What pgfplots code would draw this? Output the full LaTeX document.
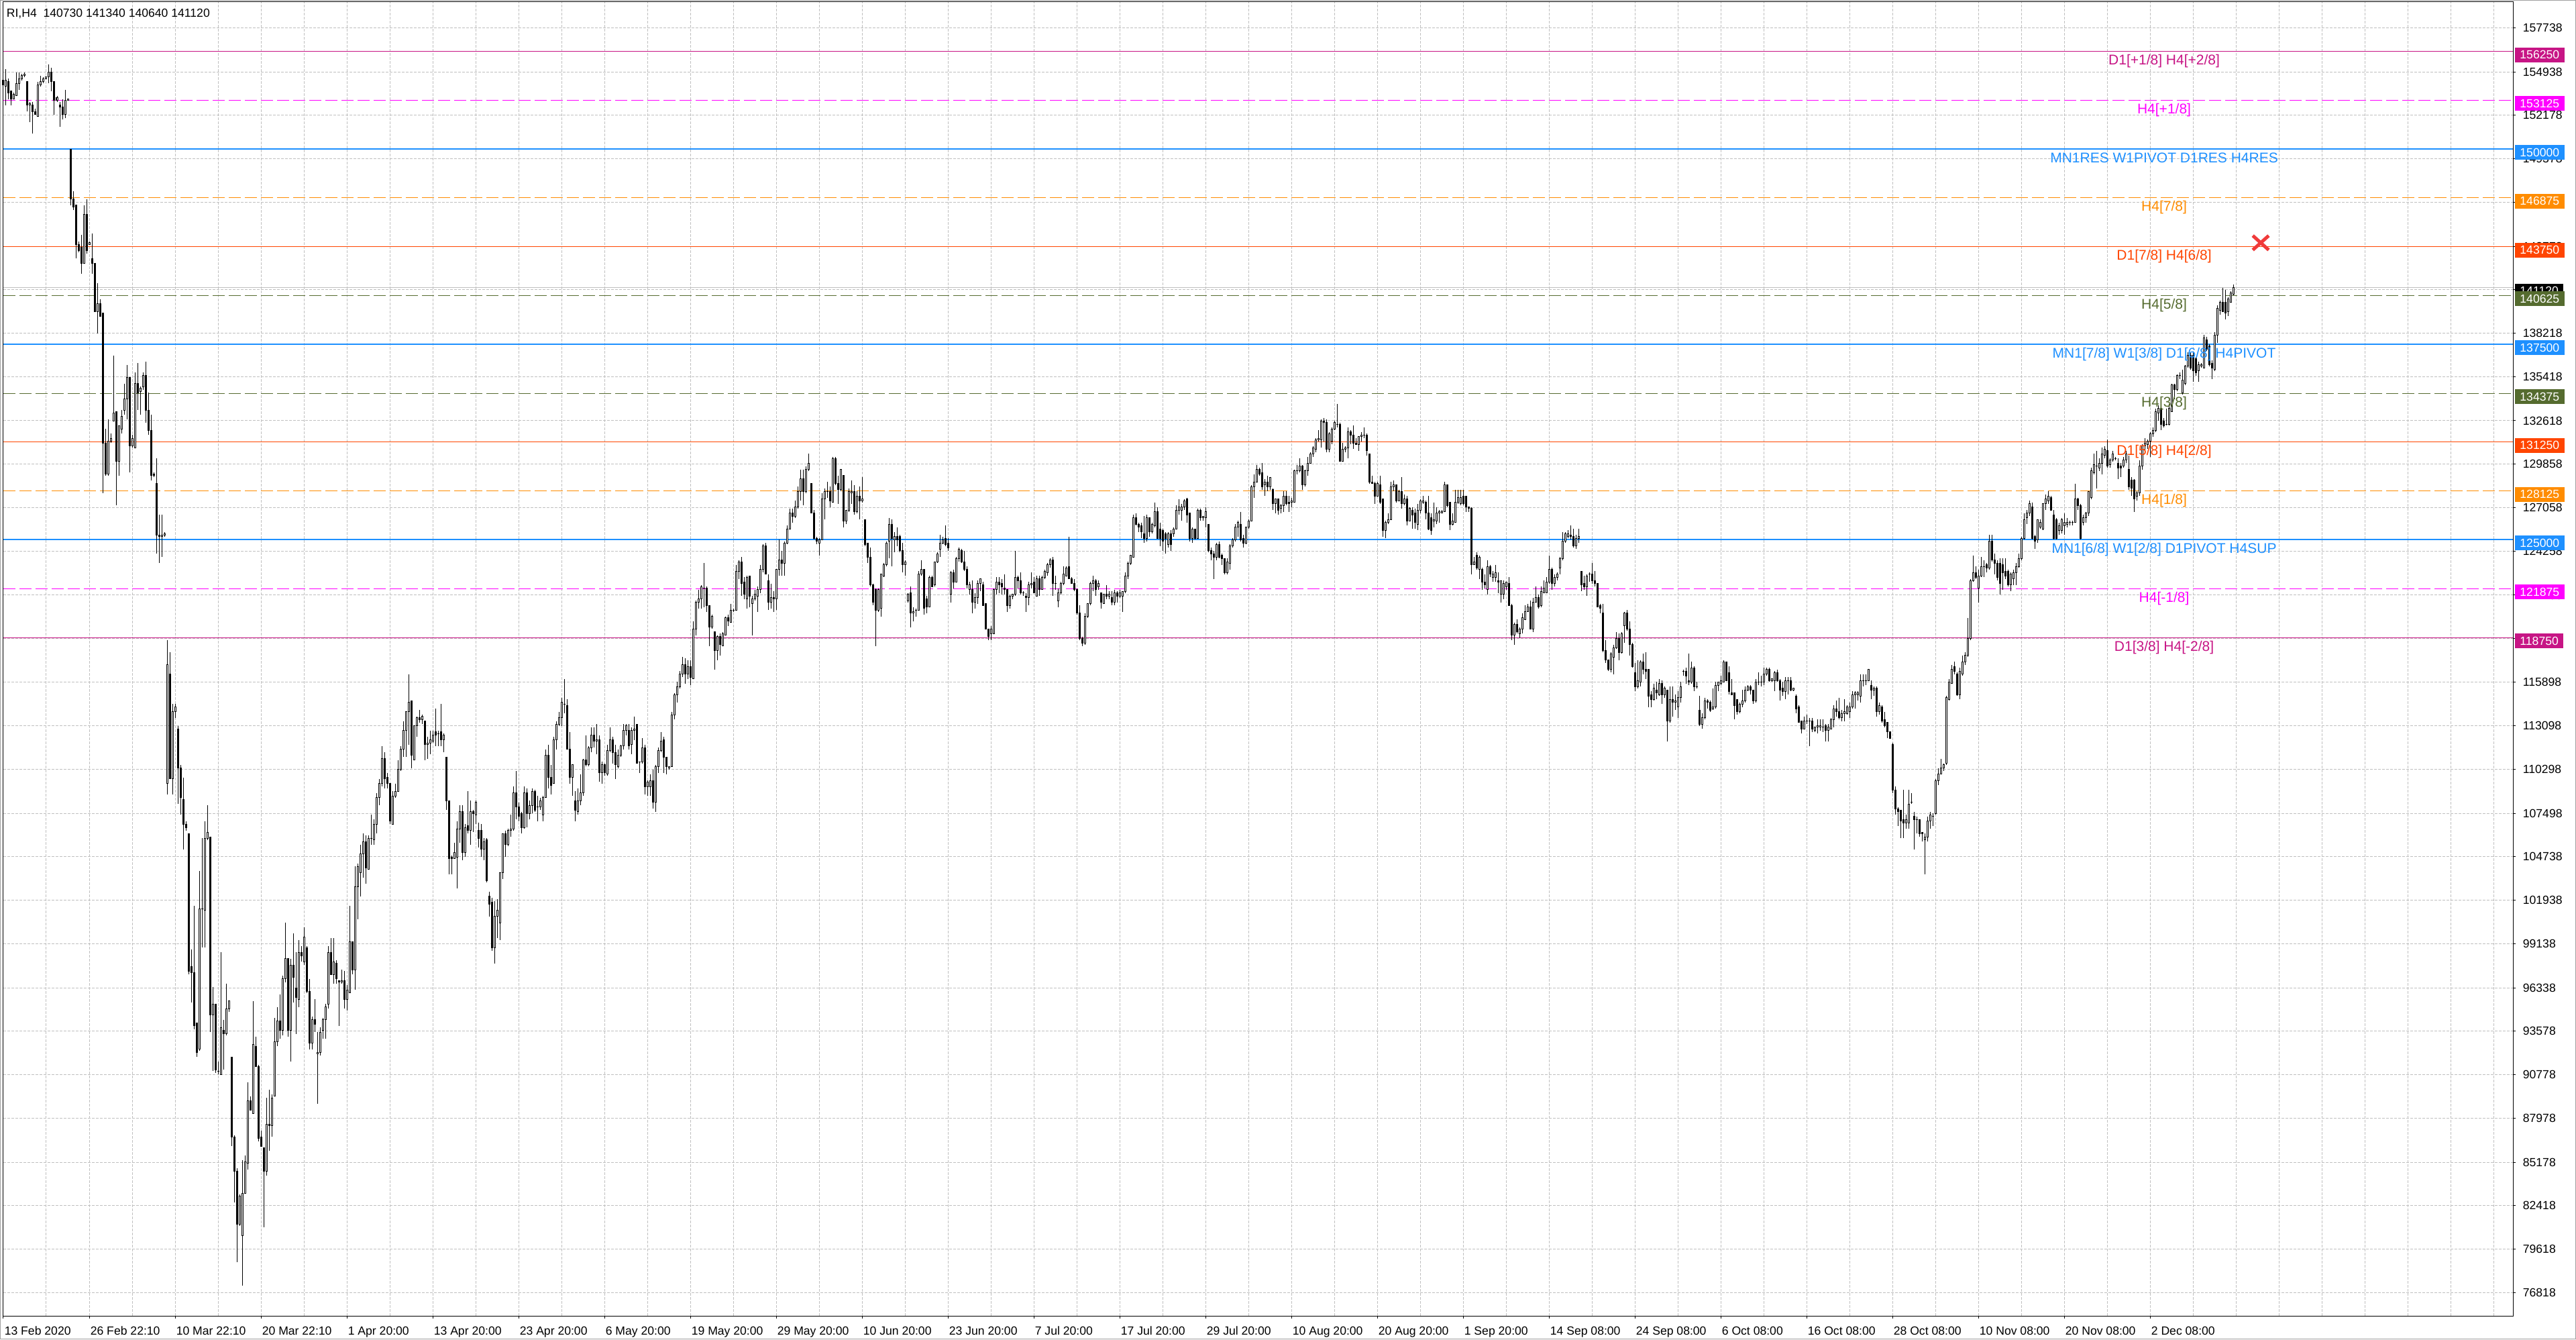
\documentclass[border=0pt]{standalone}
\usepackage{pgfplots}
\pgfplotsset{compat=1.18}
\usepackage{pgfplotstable}
\usepackage{fontspec}
\setmainfont{Liberation Sans}
\definecolor{mvred}{HTML}{C71585}
\definecolor{mag}{HTML}{FF00FF}
\definecolor{dblue}{HTML}{1E90FF}
\definecolor{dorange}{HTML}{FF8C00}
\definecolor{ored}{HTML}{FF4500}
\definecolor{olive}{HTML}{556B2F}
\definecolor{gridgray}{HTML}{C0C0C0}
\definecolor{framegray}{HTML}{A0A0A0}
\definecolor{xred}{HTML}{F03A3A}
\newcommand\tickfont{\fontsize{4.4pt}{5pt}\selectfont}
\newcommand\lvlfont{\fontsize{5.25pt}{6pt}\selectfont}
\pgfplotstableread{
O H L C
154.4 154.5 154.1 154.1
154.0 155.1 152.8 154.4
154.3 154.5 153.2 153.6
153.7 153.7 152.8 153.2
153.2 153.6 153.2 153.5
153.4 154.9 153.4 154.2
154.2 154.9 153.8 154.5
154.5 154.8 154.4 154.7
154.7 154.9 154.6 154.8
154.3 154.3 152.4 152.8
152.8 153.0 151.7 152.9
152.8 153.0 151.0 152.4
152.4 152.6 152.2 152.2
152.1 154.3 152.1 154.1
154.1 154.7 154.0 154.3
154.3 154.6 154.2 154.5
154.5 154.6 154.5 154.6
154.6 155.4 154.2 154.9
154.9 155.2 153.7 154.3
154.3 154.3 152.2 153.1
153.1 153.4 153.0 153.3
152.8 153.0 151.4 152.7
152.7 153.2 151.9 152.2
152.2 153.8 152.0 153.1
153.1 153.2 153.1 153.2
150.0 150.0 146.4 146.8
146.8 147.3 146.1 146.3
146.4 146.4 143.0 143.9
143.9 144.1 143.4 143.5
143.7 144.5 142.0 142.7
142.7 146.4 142.7 145.8
145.8 146.8 143.3 143.5
143.9 144.1 143.9 144.0
143.0 144.6 142.0 142.7
142.7 142.7 139.6 139.6
139.6 141.4 138.2 140.1
140.1 140.4 139.3 139.3
139.5 139.5 128.0 131.2
131.2 132.1 129.1 129.2
129.2 132.7 129.1 131.3
131.3 131.8 131.2 131.5
132.6 136.8 132.6 133.1
133.2 133.2 127.2 130.0
130.0 132.3 129.1 132.3
132.1 133.3 131.8 132.9
133.3 135.0 133.0 134.0
134.0 136.2 132.7 135.4
135.4 135.4 129.3 131.0
131.0 131.7 130.9 131.5
130.9 135.7 130.9 135.0
135.0 136.3 133.3 134.4
134.5 134.8 133.0 134.7
134.8 135.7 134.6 135.5
135.5 136.4 132.5 133.3
133.3 134.4 131.7 132.0
132.0 133.0 128.8 129.1
129.2 129.3 129.0 129.1
128.6 130.2 124.1 125.3
125.3 126.6 123.5 125.2
125.2 126.6 123.9 125.3
125.3 125.5 125.2 125.4
109.4 118.6 108.7 117.0
116.4 117.8 109.7 109.7
109.7 114.5 108.7 114.0
114.0 114.5 113.6 114.3
112.9 113.1 108.1 110.4
110.4 110.6 107.4 108.5
108.4 109.8 105.2 106.8
106.8 107.0 106.4 106.6
106.2 106.2 97.2 97.4
97.7 98.8 95.4 97.3
97.3 101.6 93.7 93.9
94.1 94.1 91.9 92.2
92.4 103.8 92.3 101.4
101.4 105.9 98.9 101.4
101.3 107.0 98.9 105.9
105.9 108.0 105.8 106.3
106.0 106.0 93.5 94.6
94.6 96.4 91.0 95.3
95.3 95.3 90.9 91.1
91.0 91.6 90.8 91.0
90.8 98.6 90.8 93.8
93.6 94.3 91.1 93.4
93.4 96.6 93.3 95.0
95.0 95.5 94.8 95.5
91.9 91.9 86.2 86.8
86.8 86.9 82.6 84.6
84.6 84.8 78.8 81.2
81.2 83.1 81.1 83.0
80.5 85.3 77.3 83.2
83.2 85.6 83.2 85.2
85.1 90.3 84.7 89.1
89.1 89.4 88.5 88.5
88.3 95.5 88.3 92.7
92.6 93.2 91.3 91.3
91.3 91.4 86.5 86.7
86.8 87.2 86.2 86.2
86.1 86.1 81.0 84.6
84.6 89.3 84.3 87.6
87.6 89.8 85.9 87.5
87.5 89.5 86.8 89.3
89.4 94.4 89.4 92.9
92.9 95.1 92.6 94.2
94.2 95.9 93.1 93.6
93.6 97.1 93.3 96.9
96.9 100.5 96.7 98.2
98.2 98.2 93.2 93.6
93.6 98.2 91.6 97.8
97.8 99.8 95.4 97.0
96.3 98.6 93.4 95.7
95.6 99.4 95.1 98.6
98.6 99.0 98.0 98.4
98.0 100.2 97.8 99.6
98.9 99.0 96.0 96.1
96.1 96.9 92.4 92.8
92.8 94.5 92.4 94.3
94.3 95.6 93.5 94.0
92.1 93.5 88.9 92.2
92.2 93.8 92.0 93.5
93.6 94.4 93.1 94.3
94.3 95.3 93.1 95.1
95.3 99.0 95.0 98.6
98.6 99.5 97.2 97.2
97.2 99.5 96.6 98.0
97.9 98.1 96.6 96.9
96.8 96.8 93.9 96.7
96.7 97.5 96.6 96.8
96.8 97.4 95.0 95.6
95.6 96.5 94.9 96.2
96.0 101.6 96.0 99.3
99.3 99.3 97.2 97.5
97.5 104.1 96.2 102.8
102.8 104.3 100.7 104.1
103.7 105.5 102.2 104.9
104.9 106.2 103.4 105.7
105.7 106.1 103.0 104.0
103.9 106.1 103.9 105.9
105.9 107.4 105.5 105.9
105.8 107.1 105.5 106.8
106.8 108.8 106.2 108.5
108.5 109.7 108.0 109.4
109.4 111.8 109.2 111.0
111.0 111.4 109.1 109.7
109.8 110.1 109.1 109.4
109.4 109.4 106.8 107.0
106.8 108.9 106.8 108.6
108.6 109.4 108.5 108.9
108.9 110.9 108.9 110.3
110.3 111.8 110.2 111.6
111.6 113.4 111.1 112.8
112.8 114.0 111.1 114.0
114.0 116.4 111.9 114.6
114.7 114.7 110.4 111.2
110.9 113.1 110.9 113.1
113.1 113.7 112.4 113.6
113.6 114.1 113.3 113.5
113.5 113.8 113.2 113.7
113.4 113.4 110.9 111.9
111.9 112.4 111.0 112.0
112.0 112.8 111.3 112.2
112.1 112.8 112.0 112.5
112.7 114.2 111.8 112.5
112.6 112.8 111.8 112.6
112.7 114.5 111.8 112.2
112.2 112.6 111.4 112.5
111.1 111.1 107.7 108.3
108.3 108.3 103.6 104.6
104.7 104.8 103.6 104.6
104.6 105.6 104.6 105.0
104.7 107.0 102.7 106.5
106.5 108.0 105.6 107.6
107.6 108.0 104.5 105.0
105.0 106.8 104.7 106.6
106.7 108.9 106.2 106.4
106.4 108.3 105.5 107.6
107.6 107.7 106.3 107.5
107.4 108.3 106.8 108.2
106.4 106.9 105.3 105.9
106.4 106.8 104.7 105.2
105.2 105.9 104.5 105.7
105.8 105.9 103.1 103.2
102.2 102.5 100.9 101.7
101.8 102.1 98.7 98.9
98.9 101.9 97.9 100.9
100.9 102.0 99.5 101.3
100.5 103.7 99.4 103.7
103.7 106.2 103.3 106.2
106.2 106.4 104.7 105.5
105.5 106.5 105.4 106.4
106.4 107.4 106.0 106.5
106.5 109.2 106.4 108.8
108.8 110.2 107.1 107.9
107.9 108.2 107.0 107.3
107.5 107.6 106.2 106.6
106.6 109.2 106.5 108.8
108.8 109.1 106.6 107.5
107.5 108.3 107.1 108.0
108.0 109.1 107.5 108.9
108.9 109.0 107.6 107.7
107.9 108.6 107.0 107.9
107.9 108.5 107.7 108.3
107.4 108.6 107.0 108.5
108.5 111.6 108.5 111.2
111.2 111.9 109.1 109.8
109.8 110.6 108.7 109.3
109.4 112.4 109.4 112.2
112.2 113.4 111.6 113.2
113.2 114.0 113.1 113.6
113.6 114.9 113.1 114.6
114.5 116.1 113.9 114.5
114.4 114.8 111.6 111.6
111.6 112.7 109.4 109.8
109.8 110.6 108.6 110.6
108.3 108.9 107.0 107.7
107.6 109.1 107.4 108.3
108.3 110.0 108.0 108.8
108.8 111.0 108.6 110.9
110.9 112.5 110.5 110.6
110.6 111.8 110.5 111.7
111.7 113.0 111.4 112.5
112.5 113.0 111.7 112.1
112.1 113.2 111.3 112.2
112.2 112.5 109.5 110.1
110.1 110.8 109.4 110.6
110.6 110.7 109.9 110.1
110.0 111.9 109.9 111.5
111.5 113.0 111.4 112.2
112.2 112.4 110.7 111.4
111.4 111.9 109.7 110.6
110.5 111.6 110.4 111.2
111.2 111.9 111.1 111.8
111.8 113.2 111.6 112.8
112.8 113.2 112.5 113.1
112.8 113.2 111.6 111.8
111.9 113.0 111.3 112.8
112.8 113.7 112.2 112.9
113.2 113.2 110.7 110.7
110.8 110.8 110.1 110.8
110.8 112.3 110.7 111.7
111.7 111.9 108.7 109.2
109.2 109.6 108.6 109.5
109.2 110.0 108.6 109.6
109.6 110.3 107.8 108.2
108.2 110.6 107.6 110.5
110.5 111.7 110.1 111.5
111.5 112.7 111.4 112.1
112.2 112.4 110.1 111.1
111.1 111.1 110.0 110.5
110.4 110.5 110.3 110.5
110.5 114.0 110.5 113.8
113.8 115.2 113.5 115.1
115.1 115.9 114.6 115.6
115.6 116.6 115.5 116.4
116.4 117.5 116.2 117.0
117.0 117.4 115.8 116.4
116.4 117.3 116.1 116.9
116.9 117.3 115.7 116.2
116.1 119.8 116.1 119.3
119.3 121.1 118.9 121.0
121.0 121.8 120.6 121.2
121.2 122.1 120.6 122.0
121.9 123.5 120.7 121.9
121.9 122.0 120.4 120.8
120.8 120.8 118.2 119.4
119.4 120.2 119.3 120.1
119.1 119.1 116.7 117.9
117.9 118.9 117.3 118.8
118.8 119.0 117.6 118.3
118.2 119.1 118.2 119.0
118.9 120.1 118.9 120.0
120.0 120.2 119.5 119.8
119.7 120.9 119.7 120.5
120.5 120.6 120.4 120.5
120.5 123.4 120.5 123.0
123.0 123.7 122.5 123.6
123.6 123.9 121.4 122.2
122.3 122.6 121.2 121.5
121.2 122.7 120.6 122.6
122.7 122.7 120.7 121.4
120.9 121.4 118.9 121.2
121.2 121.8 121.1 121.5
121.4 122.0 120.4 121.8
121.8 123.4 121.6 123.1
123.1 124.7 122.9 124.6
124.6 124.8 122.8 122.8
122.4 122.8 120.5 121.0
121.0 122.2 120.6 121.3
121.3 121.7 120.4 121.2
121.2 123.1 120.5 123.1
123.1 125.0 122.7 123.7
123.7 124.3 122.7 123.5
123.5 124.9 122.7 124.8
124.8 125.9 124.7 125.7
125.7 127.0 125.7 126.7
126.7 127.0 126.1 126.5
126.5 127.5 126.4 127.1
127.1 128.4 127.0 128.1
128.1 129.5 127.5 128.9
128.9 129.5 127.2 128.1
128.1 129.7 128.0 129.5
129.5 130.5 129.4 129.9
128.6 128.6 126.7 126.7
126.7 126.9 125.0 125.1
125.1 125.2 124.7 124.9
124.8 125.1 124.0 125.0
125.0 128.0 125.0 127.6
127.6 128.3 126.3 128.1
128.1 128.7 127.7 128.1
128.1 128.4 127.1 127.5
127.4 130.3 127.4 130.2
130.2 130.3 128.5 128.6
128.6 129.1 127.3 128.2
128.2 129.5 128.1 129.5
129.1 129.1 125.8 126.2
126.2 126.9 126.0 126.9
126.9 128.3 126.8 128.1
128.0 128.8 127.3 128.1
128.1 128.5 126.6 126.8
126.8 128.1 126.7 127.8
127.8 128.4 126.3 127.5
127.5 129.0 127.4 127.6
126.3 126.3 124.6 124.7
124.8 124.8 123.5 123.9
123.9 124.5 122.0 122.1
122.1 122.2 120.8 121.0
121.8 121.9 118.2 120.5
120.5 121.9 120.4 121.8
120.6 122.8 120.1 122.8
122.7 123.5 122.6 123.4
123.4 124.9 123.3 124.8
124.9 126.4 123.8 126.0
126.0 126.3 123.3 125.1
125.0 125.5 124.2 125.2
125.2 125.8 124.6 125.0
125.2 125.3 124.2 124.3
124.3 124.8 122.9 123.4
123.4 123.7 122.7 123.6
121.1 121.6 121.0 121.5
121.6 122.0 119.4 120.3
120.3 120.7 119.8 120.4
120.5 120.6 120.1 120.5
120.5 123.0 120.5 122.8
122.8 123.7 122.7 123.1
123.1 123.1 120.2 120.6
121.2 121.4 120.3 120.7
120.7 122.7 120.7 122.6
122.6 122.7 122.0 122.0
122.1 123.6 122.0 123.6
123.6 124.2 123.5 124.1
124.4 125.3 123.9 124.8
124.8 125.2 124.7 125.0
125.1 125.9 124.6 124.7
124.8 125.1 124.3 124.5
121.5 123.0 121.0 122.9
122.9 123.1 121.9 122.3
122.3 123.9 122.3 123.8
123.8 124.5 123.6 124.4
124.3 124.4 123.5 123.6
123.6 124.3 123.0 123.1
123.1 123.3 121.9 122.1
121.8 122.3 121.5 122.1
121.8 122.4 120.3 121.0
121.0 121.6 120.6 121.3
121.3 122.4 120.9 122.2
122.2 122.5 121.7 122.5
122.1 122.3 120.8 120.8
120.9 120.9 119.3 119.3
119.3 119.3 118.6 118.8
119.0 119.5 118.6 119.3
119.0 121.9 119.0 121.8
121.8 122.6 121.5 122.3
122.3 122.6 121.6 122.1
122.2 122.5 121.5 122.0
121.9 122.8 121.5 121.8
121.8 121.8 120.4 120.8
120.8 121.5 120.6 121.4
121.4 121.5 121.2 121.5
121.5 124.3 121.4 122.6
122.6 122.7 121.9 122.4
122.4 122.9 121.5 121.6
121.6 121.7 121.4 121.6
121.4 121.6 120.4 121.3
121.3 122.3 120.8 122.1
122.1 122.9 121.9 122.2
122.3 122.6 121.6 121.6
121.4 122.7 121.4 122.5
122.5 122.7 121.4 121.8
121.8 122.7 121.8 122.6
122.6 123.1 122.5 123.0
122.9 123.5 122.7 123.4
123.4 123.8 123.2 123.7
123.7 123.9 121.4 122.2
122.2 122.7 121.8 122.2
121.1 121.9 120.7 121.6
121.6 122.3 121.5 122.2
122.2 123.3 122.1 122.8
122.7 123.3 122.7 123.2
123.3 125.2 122.5 122.5
122.5 122.6 122.2 122.2
122.2 122.5 121.7 121.8
121.8 121.9 120.2 120.3
120.3 120.8 118.6 118.7
118.7 118.8 118.2 118.4
118.4 120.3 118.3 120.1
120.1 120.9 120.0 120.9
120.9 122.3 120.8 122.2
122.2 122.7 121.7 122.4
122.4 122.5 121.4 121.8
122.0 122.4 121.8 122.2
121.6 121.6 120.6 121.0
120.9 121.5 120.9 121.5
121.5 122.1 121.2 121.4
121.4 121.7 121.2 121.5
121.3 121.7 120.8 121.0
121.0 121.8 120.8 121.6
121.6 121.7 121.0 121.4
121.4 121.8 121.3 121.6
121.4 121.7 120.4 121.7
121.7 122.9 121.6 122.7
122.7 123.6 122.5 123.5
123.5 124.0 123.4 124.0
123.9 126.6 123.9 126.4
126.4 126.7 125.9 126.0
126.0 126.1 125.5 125.8
125.9 126.1 125.1 125.5
125.4 126.5 124.8 125.1
125.1 126.6 124.9 126.4
126.4 126.4 125.2 125.5
125.5 126.1 125.4 126.0
125.9 127.4 125.8 126.8
126.8 127.1 125.1 125.1
125.7 126.1 124.6 125.1
125.6 125.7 124.3 124.9
125.4 125.5 124.1 125.1
124.7 125.5 124.5 125.4
125.4 125.6 124.3 124.7
125.4 125.8 125.2 125.7
125.7 127.2 125.7 126.9
126.9 127.6 126.6 127.1
126.9 127.3 126.2 127.1
127.1 127.6 126.9 127.5
127.6 127.7 126.1 126.6
126.7 126.7 124.9 125.1
125.1 125.8 124.8 125.7
125.7 125.7 125.0 125.1
125.1 127.0 125.1 126.9
126.9 127.0 126.2 126.4
126.4 126.5 126.2 126.5
126.4 127.1 125.8 126.8
126.0 126.0 124.2 124.3
124.3 124.5 123.7 124.1
124.1 124.3 122.5 123.9
123.9 124.8 123.7 124.7
124.7 124.9 123.8 123.9
124.0 124.1 123.4 123.8
123.8 123.8 122.8 122.9
122.9 123.8 122.8 123.6
123.5 124.7 123.1 124.6
124.6 125.1 124.5 125.0
125.0 126.0 124.9 125.8
125.8 126.2 125.2 126.1
126.0 126.8 124.9 125.0
125.1 125.3 124.5 124.8
124.8 125.8 124.7 125.8
125.8 126.3 125.7 126.2
126.2 128.5 126.2 128.4
128.4 129.2 127.7 128.7
128.7 129.8 128.7 129.5
129.5 129.6 129.1 129.2
129.3 129.9 128.2 128.4
128.5 128.9 127.8 128.7
128.7 129.1 128.1 128.4
128.4 129.0 128.2 129.0
128.2 128.3 126.9 127.3
127.3 127.6 126.7 127.6
127.6 127.6 126.6 126.9
127.0 127.3 126.7 127.2
127.2 128.1 126.8 127.8
127.8 128.1 127.2 127.3
127.4 127.8 126.8 127.3
127.4 127.7 127.1 127.5
127.4 129.5 127.4 129.4
129.4 129.8 129.2 129.4
129.4 130.2 129.3 129.7
129.7 129.8 128.2 128.5
128.5 129.5 128.4 129.4
129.4 130.3 129.1 129.9
129.9 130.6 129.9 130.5
130.5 131.0 130.3 130.9
130.8 131.5 130.6 131.4
131.4 132.0 131.3 131.5
131.4 132.7 130.9 132.6
132.6 132.8 131.3 132.5
132.5 132.7 130.6 130.8
130.8 131.9 130.6 131.8
131.3 132.2 131.1 132.1
132.1 132.6 132.0 132.5
132.4 133.7 132.2 132.4
132.4 132.5 130.0 130.0
130.0 131.2 130.0 130.8
130.8 131.0 130.6 130.9
130.9 132.2 130.2 131.9
131.9 132.0 131.1 131.7
131.7 132.3 130.8 131.2
131.2 131.5 131.1 131.1
131.1 131.6 130.7 131.6
131.6 131.9 131.3 131.7
131.7 132.2 131.5 131.7
131.7 131.8 130.4 130.7
130.5 130.5 128.6 128.7
128.7 129.1 128.6 128.6
128.6 128.7 127.3 127.8
127.8 128.7 127.8 128.6
128.5 129.1 127.3 127.4
127.6 127.6 125.2 125.6
125.6 126.2 125.1 126.1
126.1 126.7 126.0 126.3
126.3 128.7 126.3 128.4
128.4 128.8 128.1 128.5
128.5 128.5 127.4 127.5
127.5 128.2 127.5 128.1
128.1 129.0 127.0 127.3
127.3 127.9 127.2 127.6
127.6 127.8 125.9 126.2
126.2 127.1 126.2 127.0
126.9 127.1 125.7 126.6
126.7 127.0 125.7 126.1
126.0 127.3 125.6 126.9
126.9 127.6 126.7 127.5
127.4 127.8 127.3 127.5
127.4 127.5 126.3 126.7
126.7 127.8 125.6 125.7
126.4 126.7 125.3 125.6
126.2 127.4 125.8 126.3
126.2 127.1 126.0 126.7
126.7 126.9 126.1 126.8
126.7 126.9 126.7 126.8
126.8 128.7 126.8 128.5
128.5 128.5 127.1 127.2
127.4 127.4 125.6 126.0
126.0 126.7 125.9 126.2
126.1 128.2 126.1 127.4
127.4 128.2 127.3 127.7
127.3 128.2 127.2 127.7
127.8 128.2 127.2 127.3
127.8 127.8 126.8 127.1
127.1 127.1 126.8 127.0
127.0 127.1 122.8 123.4
123.4 123.9 123.4 123.6
124.0 124.2 123.1 123.2
123.1 124.0 122.5 123.9
123.1 123.2 121.8 122.3
122.3 122.8 121.9 122.1
121.8 123.7 121.5 123.3
123.3 123.4 122.6 122.8
122.6 123.0 122.3 122.8
122.6 123.4 122.3 122.9
122.4 122.9 121.6 122.3
121.5 122.4 121.0 122.4
121.5 122.4 121.2 122.2
122.0 122.3 121.8 122.3
122.2 122.6 120.8 120.8
120.8 120.9 118.6 118.9
118.9 119.7 118.3 119.6
119.6 119.9 119.0 119.1
119.0 119.4 118.7 119.3
119.3 120.3 119.0 120.0
119.9 120.8 119.9 120.4
120.4 120.9 120.4 120.7
120.7 121.1 119.3 119.3
119.3 121.3 119.1 121.0
121.0 122.0 121.0 121.3
121.3 121.5 120.6 120.7
120.8 122.0 120.7 121.7
121.6 122.4 121.6 121.9
121.6 122.6 121.6 122.3
122.3 124.0 122.2 123.1
123.1 123.2 121.8 122.2
122.2 122.8 122.0 122.6
122.6 122.9 122.4 122.8
123.2 123.9 122.8 123.8
123.8 125.5 123.7 124.9
124.9 125.5 124.8 125.4
125.2 125.6 125.1 125.4
125.3 125.9 125.0 125.2
125.2 125.7 124.5 124.6
124.6 125.3 124.4 125.1
125.1 125.7 124.8 125.2
123.0 123.0 121.7 122.1
122.2 122.7 121.8 122.0
122.0 122.8 121.4 122.7
122.8 122.9 122.3 122.8
122.8 123.5 122.2 122.4
122.4 123.0 122.0 122.2
122.2 122.2 120.7 120.7
120.8 120.9 120.3 120.6
120.3 120.9 117.8 117.9
117.9 118.6 117.1 117.3
117.3 117.3 116.6 116.7
116.7 117.8 116.5 117.7
117.5 118.3 116.4 118.1
118.1 119.1 118.0 118.7
118.7 119.0 117.3 117.8
117.8 119.1 117.7 119.0
119.5 120.4 118.4 120.3
120.3 120.5 119.2 119.3
119.3 119.8 117.6 118.3
118.3 118.4 116.8 116.9
116.5 117.1 115.3 115.6
115.6 117.3 115.5 116.0
115.9 117.3 115.6 117.2
117.2 117.7 116.4 116.7
116.7 117.8 116.1 116.6
116.7 116.7 114.3 115.0
115.1 115.3 114.3 114.8
114.8 115.8 114.7 115.5
115.4 115.9 114.8 115.2
115.1 116.1 115.0 115.8
115.8 116.0 114.5 115.1
115.1 115.6 114.9 115.5
115.4 115.4 112.1 113.4
113.4 115.6 113.3 114.8
114.8 115.6 113.7 114.6
114.6 115.1 114.1 114.7
114.3 115.3 113.6 114.9
114.9 115.9 114.6 115.6
116.6 116.7 116.3 116.6
116.6 116.8 115.8 116.3
116.0 117.7 115.7 115.9
115.9 117.2 115.8 116.8
116.8 116.9 115.3 115.6
115.6 115.9 115.5 115.6
114.1 115.0 113.1 113.2
113.2 113.9 112.9 113.6
113.6 114.9 113.5 114.7
114.7 114.8 114.2 114.6
114.6 114.7 114.0 114.1
114.2 115.5 114.1 114.3
114.3 115.9 114.2 115.7
115.7 115.9 115.3 115.9
115.8 116.3 115.7 116.0
115.9 117.3 115.9 117.2
117.2 117.2 116.0 116.0
116.5 116.9 115.1 115.3
115.2 116.1 115.1 115.1
115.2 115.2 113.5 114.4
114.8 114.8 113.8 114.0
114.0 114.6 113.9 114.5
114.5 115.4 114.3 114.7
114.7 115.6 114.6 115.4
115.4 115.7 115.3 115.6
115.6 115.7 115.1 115.4
115.4 115.4 114.5 114.7
114.7 116.1 114.6 115.9
115.9 116.5 115.7 115.9
115.9 116.3 115.6 115.9
115.9 116.8 115.7 116.4
116.4 116.8 116.3 116.7
116.7 116.8 115.9 116.0
116.0 116.1 115.9 116.1
116.0 116.6 115.3 116.5
116.5 116.7 115.9 116.0
116.0 116.1 114.7 115.4
115.5 115.9 115.0 115.3
115.3 116.2 114.8 116.0
116.0 116.2 115.1 116.0
116.0 116.2 115.3 115.4
115.4 115.5 115.3 115.5
115.0 115.1 113.9 114.2
114.3 114.4 113.3 113.3
113.4 113.4 112.6 112.9
112.9 113.7 112.9 113.4
113.4 113.8 113.2 113.4
113.4 113.6 111.8 113.4
113.4 113.6 112.7 112.9
112.8 113.0 112.7 113.0
113.0 113.5 112.6 113.1
113.0 113.5 112.8 113.1
113.0 113.5 112.7 113.0
113.1 113.2 112.1 112.8
112.8 113.2 112.1 113.0
112.9 113.6 112.9 113.5
113.5 114.4 113.0 114.2
114.2 114.7 113.7 114.0
114.0 114.9 113.5 113.6
113.6 114.1 113.4 113.9
113.9 114.8 113.4 114.0
113.9 114.4 113.8 114.3
114.0 114.6 113.6 114.3
114.3 115.3 114.2 115.1
115.1 115.3 114.2 115.2
115.1 115.3 114.7 115.2
115.0 116.4 114.6 116.0
116.0 116.4 115.6 116.0
116.0 116.4 115.7 116.0
116.0 116.7 116.0 116.7
115.7 116.0 114.8 115.4
115.4 115.6 115.0 115.5
115.5 115.6 113.7 114.0
114.0 114.6 113.8 114.4
114.3 114.4 113.3 113.4
113.5 114.0 113.0 113.1
113.3 113.3 112.3 112.7
112.7 112.7 112.3 112.3
111.9 112.0 108.8 109.0
109.0 109.2 107.4 107.8
107.8 107.9 106.7 107.6
107.7 107.7 105.9 107.0
107.1 109.0 105.9 106.9
106.9 107.4 106.5 107.1
106.9 109.0 106.5 108.1
108.2 108.8 108.1 108.2
107.3 107.6 105.2 107.1
107.1 107.3 106.2 107.1
107.1 107.1 106.0 106.2
106.3 106.3 105.7 106.2
105.8 106.2 103.6 106.0
106.0 107.3 105.7 107.0
107.0 107.6 106.5 107.4
107.3 107.5 106.7 107.3
107.5 109.7 107.4 109.6
109.6 110.4 109.3 110.0
110.0 111.0 110.0 110.4
110.4 110.7 110.2 110.6
110.7 115.0 110.6 114.9
114.8 116.1 114.7 115.9
115.8 117.0 115.8 116.7
116.9 117.2 116.4 116.6
116.4 116.5 115.0 115.1
115.1 116.8 114.8 116.6
116.4 117.6 116.3 117.2
117.2 117.8 117.0 117.6
117.6 120.0 117.5 118.7
118.7 122.5 118.6 122.4
122.4 124.0 122.3 122.9
122.9 123.3 122.5 122.6
121.9 123.1 121.0 122.7
122.7 123.9 122.6 123.3
123.3 123.7 122.6 123.3
123.4 123.5 122.9 123.2
123.2 125.3 123.1 124.9
124.9 125.3 123.6 123.7
123.7 124.1 122.8 123.5
123.5 123.7 122.4 122.6
123.5 123.8 121.5 122.2
123.4 123.8 121.8 122.9
123.0 123.8 122.5 122.7
123.0 123.1 122.0 122.1
122.1 122.9 121.7 122.8
122.5 123.1 122.1 122.9
122.9 123.5 122.1 123.3
123.3 124.1 123.2 123.8
123.8 125.2 123.7 125.1
125.1 126.7 125.0 126.3
126.4 126.9 126.0 126.7
126.7 127.5 126.5 127.3
127.1 127.4 125.0 125.1
125.2 125.3 124.4 124.9
125.0 126.3 124.8 126.3
125.8 126.3 125.7 126.1
125.7 127.3 125.6 127.3
127.3 127.9 126.9 127.6
127.5 128.1 127.3 127.8
127.7 127.8 126.9 126.9
126.6 126.9 125.0 125.1
126.3 126.4 125.0 125.1
125.6 126.1 125.3 125.9
125.6 126.4 125.4 126.3
125.9 126.7 125.3 126.1
126.0 126.4 125.8 126.1
126.1 126.2 125.9 126.1
126.1 126.2 125.9 126.1
126.1 128.6 126.1 127.6
127.6 127.7 126.9 127.2
127.2 127.3 125.0 125.1
126.1 126.6 125.9 126.4
126.4 126.8 126.1 126.7
126.7 128.1 126.5 128.1
127.7 129.6 127.6 129.4
129.3 130.5 129.2 129.8
129.7 130.7 128.3 129.7
129.6 130.2 129.4 129.9
129.9 130.9 129.2 130.5
130.4 131.0 130.2 130.8
130.7 131.4 129.6 129.7
129.8 130.2 129.6 130.1
130.1 130.7 130.0 130.5
130.2 130.3 130.1 130.2
129.9 130.2 128.9 129.6
129.7 129.9 129.0 129.6
129.7 130.3 129.6 130.1
130.1 130.7 129.9 130.5
129.5 130.4 128.2 128.4
128.8 129.0 127.8 128.3
128.8 128.9 126.8 127.6
127.8 128.1 127.5 128.0
128.0 130.1 127.8 129.7
129.7 131.1 129.5 131.0
131.0 131.5 130.7 131.2
131.1 131.4 130.8 131.3
131.3 131.9 130.3 131.8
131.8 132.2 131.6 132.0
132.0 133.4 131.9 133.2
133.1 133.6 132.6 133.4
133.4 133.6 132.0 132.4
132.6 132.8 132.2 132.3
132.4 133.4 132.3 132.4
132.4 133.7 132.3 133.4
133.2 135.0 133.2 134.9
134.9 135.0 134.0 134.6
134.6 135.6 134.5 135.5
135.5 135.7 135.3 135.5
134.4 135.9 134.3 135.2
135.0 136.2 134.9 136.1
136.1 137.0 136.0 136.8
136.8 137.0 135.9 136.0
136.8 137.0 135.1 135.8
136.6 136.7 135.5 135.7
135.8 136.4 135.1 136.2
136.1 136.3 136.0 136.2
136.0 138.1 136.0 137.9
137.8 138.0 137.1 137.2
137.4 137.5 136.1 136.2
136.3 136.5 135.3 136.0
135.9 138.3 135.8 138.1
138.1 140.0 137.6 139.8
139.7 140.3 139.4 140.2
140.2 141.1 139.6 139.6
140.2 141.0 139.1 139.5
139.6 140.5 139.3 140.4
140.2 140.9 140.2 140.8
140.73 141.34 140.64 141.12
}\bars
\begin{document}
\begin{tikzpicture}
\path[use as bounding box] (-1.25pt,-8.75pt) rectangle (958.75pt,490.25pt);
\begin{axis}[
  at={(0pt,0pt)}, anchor=south west, scale only axis,
  width=935.25pt, height=489.75pt,
  xmin=0, xmax=935.25, ymin=75.348, ymax=159.448,
  clip=false,
  axis line style={black, line width=0.25pt},
  tick style={black, line width=0.25pt},
  tick align=outside, major tick length=1pt, minor tick length=0pt,
  xtick pos=bottom, ytick pos=right, yticklabel pos=right,
  xtick={0,32,...,800},
  xticklabels={13 Feb 2020,26 Feb 22:10,10 Mar 22:10,20 Mar 22:10,1 Apr 20:00,13 Apr 20:00,23 Apr 20:00,6 May 20:00,19 May 20:00,29 May 20:00,10 Jun 20:00,23 Jun 20:00,7 Jul 20:00,17 Jul 20:00,29 Jul 20:00,10 Aug 20:00,20 Aug 20:00,1 Sep 20:00,14 Sep 08:00,24 Sep 08:00,6 Oct 08:00,16 Oct 08:00,28 Oct 08:00,10 Nov 08:00,20 Nov 08:00,2 Dec 08:00},
  minor xtick={0,16,...,928},
  ytick={76.818,79.618,82.418,85.178,87.978,90.778,93.578,96.338,99.138,101.938,104.738,107.498,110.298,113.098,115.898,118.698,121.458,124.258,127.058,129.858,132.618,135.418,138.218,141.018,143.778,146.578,149.378,152.178,154.938,157.738},
  yticklabels={76818,79618,82418,85178,87978,90778,93578,96338,99138,101938,104738,107498,110298,113098,115898,118698,121458,124258,127058,129858,132618,135418,138218,141018,143778,146578,149378,152178,154938,157738},
  grid=both,
  major grid style={gridgray, line width=0.25pt, dash pattern=on 1pt off 0.5pt},
  minor grid style={gridgray, line width=0.25pt, dash pattern=on 1pt off 0.5pt},
  xticklabel style={font=\tickfont, anchor=base west, inner sep=0pt, yshift=-6pt, xshift=0.25pt},
  yticklabel style={font=\tickfont, anchor=west, inner sep=0pt, xshift=2.5pt},
]
% level lines
\addplot[mvred, line width=0.25pt] coordinates {(0,156.25) (935.25,156.25)};
\addplot[mag, line width=0.25pt, dash pattern=on 4.5pt off 1.5pt] coordinates {(0,153.125) (935.25,153.125)};
\addplot[dblue, line width=0.5pt] coordinates {(0,150) (935.25,150)};
\addplot[dorange, line width=0.25pt, dash pattern=on 4.5pt off 1.5pt] coordinates {(0,146.875) (935.25,146.875)};
\addplot[ored, line width=0.25pt] coordinates {(0,143.75) (935.25,143.75)};
\addplot[gridgray, line width=0.25pt] coordinates {(0,141.12) (935.25,141.12)};
\addplot[olive, line width=0.25pt, dash pattern=on 4.5pt off 1.5pt] coordinates {(0,140.625) (935.25,140.625)};
\addplot[dblue, line width=0.5pt] coordinates {(0,137.5) (935.25,137.5)};
\addplot[olive, line width=0.25pt, dash pattern=on 4.5pt off 1.5pt] coordinates {(0,134.375) (935.25,134.375)};
\addplot[ored, line width=0.25pt] coordinates {(0,131.25) (935.25,131.25)};
\addplot[dorange, line width=0.25pt, dash pattern=on 4.5pt off 1.5pt] coordinates {(0,128.125) (935.25,128.125)};
\addplot[dblue, line width=0.5pt] coordinates {(0,125) (935.25,125)};
\addplot[mag, line width=0.25pt, dash pattern=on 4.5pt off 1.5pt] coordinates {(0,121.875) (935.25,121.875)};
\addplot[mvred, line width=0.25pt] coordinates {(0,118.75) (935.25,118.75)};
% candles: wicks
\addplot[draw=none, mark=none,
  error bars/.cd, y dir=minus, y explicit, error mark=none,
  error bar style={draw=black, solid, line width=0.25pt}]
  table[x expr=\coordindex,
        y expr={max(\thisrow{H},\thisrow{O},\thisrow{C})},
        y error minus expr={max(\thisrow{H},\thisrow{O},\thisrow{C})-min(\thisrow{L},\thisrow{O},\thisrow{C})}] {\bars};
% candles: bodies
\addplot[draw=none, mark=none,
  error bars/.cd, y dir=minus, y explicit, error mark=none,
  error bar style={draw=black, solid, line width=0.75pt}]
  table[x expr=\coordindex,
        y expr={max(\thisrow{O},\thisrow{C})+0.0215},
        y error minus expr={abs(\thisrow{O}-\thisrow{C})+0.043}] {\bars};
% candles: hollow interior of rising bars
\addplot[draw=none, mark=none,
  restrict expr to domain={\thisrow{C}-\thisrow{O}}{0.06:1000},
  error bars/.cd, y dir=minus, y explicit, error mark=none,
  error bar style={draw=white, solid, line width=0.25pt}]
  table[x expr=\coordindex,
        y expr={\thisrow{C}-0.0215},
        y error minus expr={\thisrow{C}-\thisrow{O}-0.043}] {\bars};
% marker
\addplot[only marks, mark=x, mark size=4.2pt, color=xred, mark options={line width=1.25pt, yscale=0.9}] coordinates {(841.25,144.0)};
% level texts
\node[anchor=base, font=\lvlfont, text=mvred, inner sep=0pt, yshift=-5pt] at (axis cs:805.25,156.25) {D1[+1/8] H4[+2/8]};
\node[anchor=base, font=\lvlfont, text=mag, inner sep=0pt, yshift=-5pt] at (axis cs:805.25,153.125) {H4[+1/8]};
\node[anchor=base, font=\lvlfont, text=dblue, inner sep=0pt, yshift=-5pt] at (axis cs:805.25,150) {MN1RES W1PIVOT D1RES H4RES};
\node[anchor=base, font=\lvlfont, text=dorange, inner sep=0pt, yshift=-5pt] at (axis cs:805.25,146.875) {H4[7/8]};
\node[anchor=base, font=\lvlfont, text=ored, inner sep=0pt, yshift=-5pt] at (axis cs:805.25,143.75) {D1[7/8] H4[6/8]};
\node[anchor=base, font=\lvlfont, text=olive, inner sep=0pt, yshift=-5pt] at (axis cs:805.25,140.625) {H4[5/8]};
\node[anchor=base, font=\lvlfont, text=dblue, inner sep=0pt, yshift=-5pt] at (axis cs:805.25,137.5) {MN1[7/8] W1[3/8] D1[6/8] H4PIVOT};
\node[anchor=base, font=\lvlfont, text=olive, inner sep=0pt, yshift=-5pt] at (axis cs:805.25,134.375) {H4[3/8]};
\node[anchor=base, font=\lvlfont, text=ored, inner sep=0pt, yshift=-5pt] at (axis cs:805.25,131.25) {D1[5/8] H4[2/8]};
\node[anchor=base, font=\lvlfont, text=dorange, inner sep=0pt, yshift=-5pt] at (axis cs:805.25,128.125) {H4[1/8]};
\node[anchor=base, font=\lvlfont, text=dblue, inner sep=0pt, yshift=-5pt] at (axis cs:805.25,125) {MN1[6/8] W1[2/8] D1PIVOT H4SUP};
\node[anchor=base, font=\lvlfont, text=mag, inner sep=0pt, yshift=-5pt] at (axis cs:805.25,121.875) {H4[-1/8]};
\node[anchor=base, font=\lvlfont, text=mvred, inner sep=0pt, yshift=-5pt] at (axis cs:805.25,118.75) {D1[3/8] H4[-2/8]};
% anchors for price boxes
\coordinate (p1) at (axis cs:935.25,156.25);
\coordinate (p2) at (axis cs:935.25,153.125);
\coordinate (p3) at (axis cs:935.25,150);
\coordinate (p4) at (axis cs:935.25,146.875);
\coordinate (p5) at (axis cs:935.25,143.75);
\coordinate (p6) at (axis cs:935.25,141.12);
\coordinate (p7) at (axis cs:935.25,140.625);
\coordinate (p8) at (axis cs:935.25,137.5);
\coordinate (p9) at (axis cs:935.25,134.375);
\coordinate (p10) at (axis cs:935.25,131.25);
\coordinate (p11) at (axis cs:935.25,128.125);
\coordinate (p12) at (axis cs:935.25,125);
\coordinate (p13) at (axis cs:935.25,121.875);
\coordinate (p14) at (axis cs:935.25,118.75);
\end{axis}
\tikzset{pbox/.style={anchor=west, fill=#1, text=white, font=\tickfont, inner xsep=1.9pt, inner ysep=0pt, minimum height=5.5pt, xshift=0.5pt, yshift=-1.25pt}}
\node[pbox=mvred] at (p1) {156250};
\node[pbox=mag] at (p2) {153125};
\node[pbox=dblue] at (p3) {150000};
\node[pbox=dorange] at (p4) {146875};
\node[pbox=ored] at (p5) {143750};
\node[pbox=black] at (p6) {141120};
\node[pbox=olive] at (p7) {140625};
\node[pbox=dblue] at (p8) {137500};
\node[pbox=olive] at (p9) {134375};
\node[pbox=ored] at (p10) {131250};
\node[pbox=dorange] at (p11) {128125};
\node[pbox=dblue] at (p12) {125000};
\node[pbox=mag] at (p13) {121875};
\node[pbox=mvred] at (p14) {118750};
\node[anchor=base west, font=\tickfont, inner sep=0pt] at (1pt,483.75pt) {RI,H4\ \ 140730 141340 140640 141120};
\draw[framegray, line width=0.25pt] (-1.125pt,-8.625pt) rectangle (958.625pt,490.125pt);
\end{tikzpicture}
\end{document}
